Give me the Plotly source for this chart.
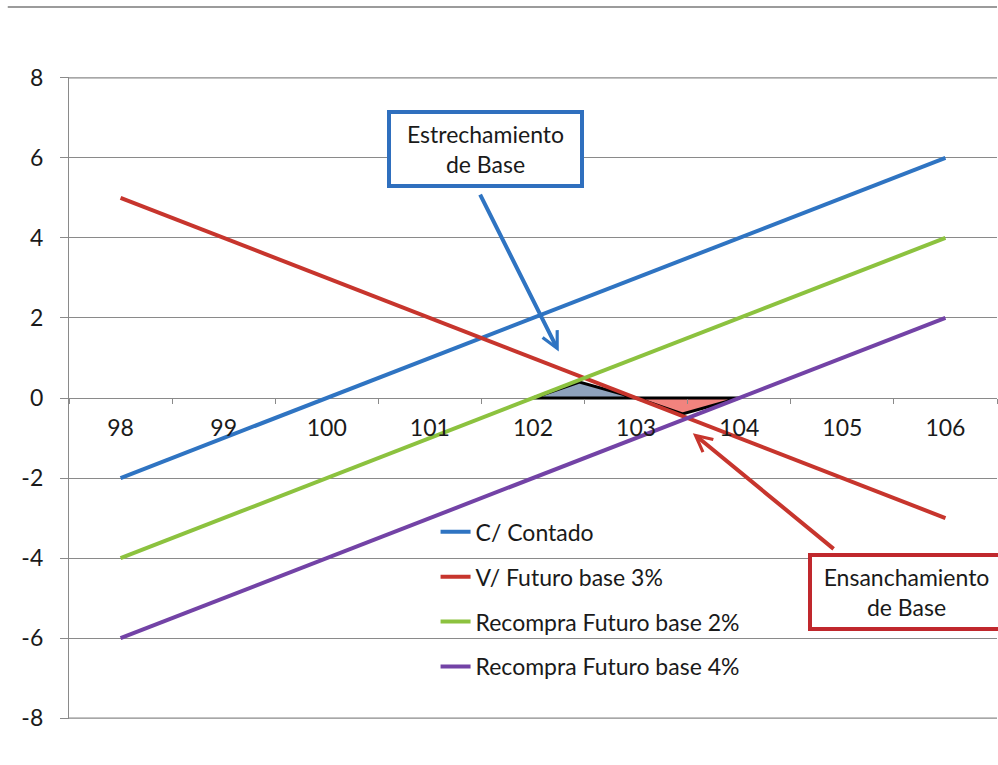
import plotly.graph_objects as go

# Precio de liquidación (eje X) y resultado de cada posición (eje Y)
precios = [98, 99, 100, 101, 102, 103, 104, 105, 106]
contado = [-2, -1, 0, 1, 2, 3, 4, 5, 6]
futuro_base3 = [5, 4, 3, 2, 1, 0, -1, -2, -3]
recompra_base2 = [-4, -3, -2, -1, 0, 1, 2, 3, 4]
recompra_base4 = [-6, -5, -4, -3, -2, -1, 0, 1, 2]

series_nombres = ["C/ Contado", "V/ Futuro base 3%",
                  "Recompra Futuro base 2%", "Recompra Futuro base 4%"]
series_colores = ["#2F74C2", "#C7352D", "#8CC23F", "#7343A6"]

# Zonas de estrechamiento / ensanchamiento de la base
estrech_x = [102, 102.45, 103]
estrech_y = [0, 0.4, 0]
ensanch_x = [103, 103.45, 104]
ensanch_y = [0, -0.4, 0]

y_ticks = [-8, -6, -4, -2, 0, 2, 4, 6, 8]
y_ticktext = ["-8", "-6", "-4", "-2", "0", "2", "4", "6", "8"]

# Posiciones de las llamadas (cuadro y flecha)
estrech_caja = (101.54, 6.22)
estrech_flecha_origen = (101.48, 5.12)
estrech_flecha_punta = (102.25, 1.16)
ensanch_caja = (105.62, -4.84)
ensanch_flecha_origen = (104.93, -3.80)
ensanch_flecha_punta = (103.55, -0.88)

FONT = "Lato"
FSIZE = 23
GRID = "#8A8A8A"
TXT = "#1A1A1A"

fig = go.Figure()

fig.add_trace(go.Scatter(
    x=estrech_x + [estrech_x[0]], y=estrech_y + [estrech_y[0]],
    fill="toself", fillcolor="#8EA2BC", mode="lines",
    line=dict(color="black", width=3), showlegend=False, hoverinfo="skip"))
fig.add_trace(go.Scatter(
    x=ensanch_x + [ensanch_x[0]], y=ensanch_y + [ensanch_y[0]],
    fill="toself", fillcolor="#F2837E", mode="lines",
    line=dict(color="black", width=3), showlegend=False, hoverinfo="skip"))

for i, (nombre, valores, color) in enumerate(zip(
        series_nombres,
        [contado, futuro_base3, recompra_base2, recompra_base4],
        series_colores)):
    fig.add_trace(go.Scatter(
        x=precios, y=valores, mode="lines", name=nombre,
        legendgroup=f"g{i}",
        line=dict(color=color, width=4)))

fig.update_layout(
    width=998, height=765,
    margin=dict(l=69, r=1, t=77, b=46),
    paper_bgcolor="white", plot_bgcolor="white",
    font=dict(family=FONT, size=FSIZE, color=TXT),
    legend=dict(
        x=0.395, y=0.325, xanchor="left", yanchor="top",
        bgcolor="rgba(0,0,0,0)", tracegroupgap=12,
        font=dict(family=FONT, size=FSIZE, color=TXT),
    ),
    xaxis=dict(
        range=[97.5, 106.5], tickvals=precios,
        ticktext=[str(p) for p in precios],
        ticks="", showgrid=False, zeroline=False, showline=False,
        anchor="free", position=0.5, ticklabelstandoff=14,
        minor=dict(tick0=97.5, dtick=1, ticks="outside", ticklen=5,
                   tickcolor=GRID, showgrid=False),
    ),
    yaxis=dict(
        range=[-8.02, 8.02], tickvals=y_ticks, ticktext=y_ticktext,
        showgrid=True, gridcolor=GRID, gridwidth=1.3,
        zeroline=False, showline=True, linecolor=GRID, linewidth=1.3,
        ticks="outside", ticklen=8, tickcolor=GRID,
        ticklabelstandoff=12,
    ),
    showlegend=True,
)

# Líneas de cuadrícula en los extremos del eje Y
for yv in (y_ticks[0], y_ticks[-1]):
    fig.add_shape(type="line", xref="paper", yref="y", layer="below",
                  x0=0, x1=1, y0=yv, y1=yv,
                  line=dict(color=GRID, width=1.3))

# Línea superior de la página
fig.add_shape(type="line", xref="paper", yref="paper",
              x0=-0.066, x1=1.0, y0=1.109, y1=1.109,
              line=dict(color="#7A7A7A", width=1.5))

# Flechas
fig.add_annotation(x=estrech_flecha_punta[0], y=estrech_flecha_punta[1],
                   ax=estrech_flecha_origen[0], ay=estrech_flecha_origen[1],
                   axref="x", ayref="y", text="", showarrow=True,
                   arrowhead=5, arrowsize=0.8, arrowwidth=4,
                   arrowcolor="#2F74C2", standoff=0)
fig.add_annotation(x=ensanch_flecha_punta[0], y=ensanch_flecha_punta[1],
                   ax=ensanch_flecha_origen[0], ay=ensanch_flecha_origen[1],
                   axref="x", ayref="y", text="", showarrow=True,
                   arrowhead=5, arrowsize=0.8, arrowwidth=4,
                   arrowcolor="#C7352D", standoff=0)

# Cuadros de texto
fig.add_annotation(x=estrech_caja[0], y=estrech_caja[1],
                   text="Estrechamiento<br>de Base", showarrow=False,
                   font=dict(family=FONT, size=FSIZE, color=TXT),
                   bgcolor="white", bordercolor="#2F6FBE", borderwidth=4,
                   borderpad=4, width=181, height=62)
fig.add_annotation(x=ensanch_caja[0], y=ensanch_caja[1],
                   text="Ensanchamiento<br>de Base", showarrow=False,
                   font=dict(family=FONT, size=FSIZE, color=TXT),
                   bgcolor="white", bordercolor="#C0282D", borderwidth=4,
                   borderpad=4, width=181, height=62)

fig.write_html("out.html")
